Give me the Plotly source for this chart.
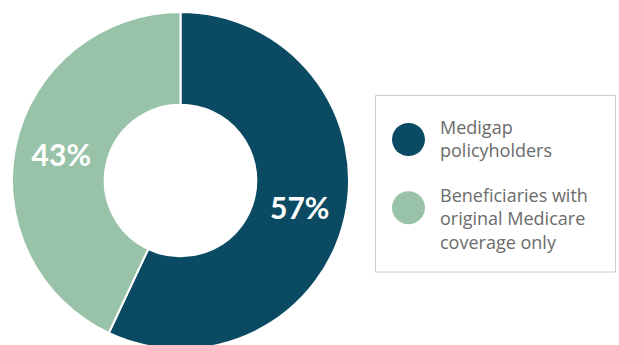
import plotly.graph_objects as go

labels = ["Medigap policyholders", "Beneficiaries with original Medicare coverage only"]
legend_lines = [["Medigap", "policyholders"], ["Beneficiaries with", "original Medicare", "coverage only"]]
values = [57, 43]
colors = ["#0B4A63", "#98C3A8"]

W, H = 619, 353  # figure drawn slightly taller than window so donut is clipped at bottom


def px(x):
    return x / W


def py(y):
    return 1 - y / H


fig = go.Figure()
fig.add_trace(go.Pie(
    labels=labels,
    values=values,
    hole=0.45,
    sort=False,
    direction="clockwise",
    rotation=0,
    marker=dict(colors=colors, line=dict(color="white", width=2)),
    texttemplate="%{value}%",
    textposition="inside",
    insidetextorientation="horizontal",
    textfont=dict(family="Lato", size=30, color="white", weight="bold"),
    domain=dict(x=[px(12), px(349)], y=[py(349), py(12)]),
    showlegend=False,
    hoverinfo="label+percent",
))

shapes = [dict(type="rect", xref="paper", yref="paper",
               x0=px(375.5), x1=px(615.5), y0=py(272), y1=py(95.5),
               line=dict(color="#CCCCCC", width=1), fillcolor="rgba(0,0,0,0)")]
annotations = []
circle_centers = [139.5, 207.7]
text_centers = [138.6, 218.0]
for lines, col, cy, ty in zip(legend_lines, colors, circle_centers, text_centers):
    shapes.append(dict(type="circle", xref="paper", yref="paper",
                       x0=px(392), x1=px(425), y0=py(cy + 16.5), y1=py(cy - 16.5),
                       line=dict(width=0), fillcolor=col))
    annotations.append(dict(x=px(438), y=py(ty), xref="paper", yref="paper",
                            xanchor="left", yanchor="middle", align="left",
                            showarrow=False, text="<br>".join(lines),
                            font=dict(family="Open Sans", size=18, color="#6B6B6B")))

fig.update_layout(
    width=W, height=H,
    margin=dict(l=0, r=0, t=0, b=0),
    paper_bgcolor="white", plot_bgcolor="white",
    shapes=shapes, annotations=annotations,
)

fig.write_html("out.html", post_script="document.documentElement.style.overflow='hidden';document.body.style.overflow='hidden';")
